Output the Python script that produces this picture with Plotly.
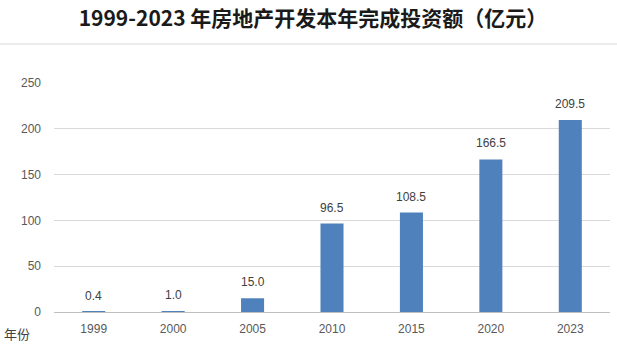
import plotly.graph_objects as go

years = ["1999", "2000", "2005", "2010", "2015", "2020", "2023"]
values = [0.4, 1.0, 15.0, 96.5, 108.5, 166.5, 209.5]
labels = ["0.4", "1.0", "15.0", "96.5", "108.5", "166.5", "209.5"]
y_ticks = [0, 50, 100, 150, 200, 250]

W, H = 617, 361
ml, mr, mt, mb = 54, 7, 83, 49
pw, ph = W - ml - mr, H - mt - mb

pos = list(range(len(years)))

fig = go.Figure()
fig.add_trace(go.Bar(x=pos, y=values, marker=dict(color="#4F81BD", line=dict(width=0)),
                     width=0.29, hovertext=years, hoverinfo="text+y"))

for p, v, t in zip(pos, values, labels):
    fig.add_annotation(x=p, y=v, text=t, showarrow=False, yanchor="bottom", yshift=7,
                       font=dict(size=12, color="#404040", family="Liberation Sans, Arial, sans-serif"))

fig.add_annotation(xref="paper", yref="paper", x=(16.5 - ml) / pw, y=(H - mb - 333) / ph,
                   text="年份", showarrow=False, xanchor="center", yanchor="middle",
                   font=dict(size=13, color="#404040", family="Noto Sans CJK SC"))

fig.add_shape(type="line", xref="paper", yref="paper",
              x0=-ml / pw, x1=(W - ml) / pw, y0=(H - mb - 44) / ph, y1=(H - mb - 44) / ph,
              line=dict(color="#D9D9D9", width=1))

fig.update_layout(
    width=W, height=H,
    margin=dict(l=ml, r=mr, t=mt, b=mb),
    paper_bgcolor="white", plot_bgcolor="white",
    showlegend=False,
    title=dict(text="<b>1999-2023 年房地产开发本年完成投资额（亿元）</b>", x=313 / W, xanchor="center",
               y=1 - 19 / H, yanchor="middle",
               font=dict(size=21, color="#1a1a1a", family="Noto Sans CJK SC")),
    xaxis=dict(range=[-0.5, len(years) - 0.5], tickvals=pos, ticktext=years,
               showgrid=False, showline=True, linecolor="#BFBFBF", linewidth=1, zeroline=False,
               ticks="", tickfont=dict(size=12, color="#595959", family="Liberation Sans, Arial, sans-serif"),
               ticklabelstandoff=6),
    yaxis=dict(range=[0, 250], tickvals=y_ticks, showgrid=True, gridcolor="#D9D9D9", gridwidth=1,
               zeroline=False, showline=False, ticks="",
               tickfont=dict(size=12, color="#595959", family="Liberation Sans, Arial, sans-serif"),
               ticklabelstandoff=12),
)

fig.write_html("out.html", config={"displayModeBar": False},
               post_script="document.body.style.margin='0';document.body.style.overflow='hidden';")
